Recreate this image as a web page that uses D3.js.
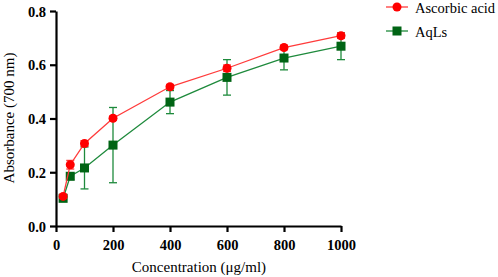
<!DOCTYPE html>
<html><head><meta charset="utf-8">
<script src="https://cdn.jsdelivr.net/npm/d3@7"></script>
<style>body{margin:0;background:#fff}svg{display:block}</style>
</head><body>
<svg id="c" width="498" height="277"></svg>
<script>
const concentrations = [25, 50, 100, 200, 400, 600, 800, 1000];
const ascorbicMean = [0.110, 0.228, 0.307, 0.401, 0.518, 0.587, 0.664, 0.708];
const ascorbicErr  = [0.006, 0.016, 0.010, 0.008, 0.008, 0.012, 0.008, 0.010];
const aqlsMean = [0.103, 0.185, 0.216, 0.301, 0.461, 0.553, 0.625, 0.669];
const aqlsErr  = [0.005, 0.012, 0.078, 0.140, 0.043, 0.066, 0.044, 0.050];
const xTicks = [0, 200, 400, 600, 800, 1000];
const yTicks = [0.0, 0.2, 0.4, 0.6, 0.8];
const seriesNames = ["Ascorbic acid", "AqLs"];

const svg = d3.select("#c");
const x = d3.scaleLinear().domain([0, 1000]).range([56, 341]);
const y = d3.scaleLinear().domain([0, 0.8]).range([226, 11]);
const font = "'Liberation Serif','DejaVu Serif',serif";

const series = [
  {name: seriesNames[0], mean: ascorbicMean, err: ascorbicErr, line: "#ff3b3b", fill: "#ff0000", shape: "circle"},
  {name: seriesNames[1], mean: aqlsMean, err: aqlsErr, line: "#1e8a3c", fill: "#006414", shape: "square"}
];

// axes
const xa = svg.append("g").attr("transform", `translate(0,${y(0)})`)
  .call(d3.axisBottom(x).tickValues(xTicks).tickSize(6).tickSizeOuter(0).tickFormat(d3.format("d")));
const ya = svg.append("g").attr("transform", `translate(${x(0)},0)`)
  .call(d3.axisLeft(y).tickValues(yTicks).tickSize(6).tickSizeOuter(0).tickFormat(d3.format(".1f")));
[xa, ya].forEach(a => {
  a.select(".domain").attr("stroke", "#000").attr("stroke-width", 2.2);
  a.selectAll(".tick line").attr("stroke", "#000").attr("stroke-width", 2.2);
  a.selectAll(".tick text").attr("font-family", font).attr("font-weight", "bold")
    .attr("font-size", 14.5).attr("fill", "#000");
});
xa.selectAll(".tick text").attr("dy", "1.0em");
ya.selectAll(".tick text").attr("dx", "-1px").attr("dy", "0.35em");

svg.append("text").attr("x", 199).attr("y", 272).attr("text-anchor", "middle")
  .attr("font-family", font).attr("font-size", 15).text("Concentration (μg/ml)");
svg.append("text").attr("transform", `translate(14,${118}) rotate(-90)`).attr("text-anchor", "middle")
  .attr("font-family", font).attr("font-size", 15).text("Absorbance (700 nm)");

const line = d3.line().x(d => x(d[0])).y(d => y(d[1]));

series.slice().reverse().forEach(s => {
  const g = svg.append("g");
  const pts = concentrations.map((c, i) => [c, s.mean[i], s.err[i]]);
  g.append("path").attr("d", line(pts)).attr("fill", "none").attr("stroke", s.line).attr("stroke-width", 1.3);
  pts.forEach(p => {
    const cx = x(p[0]);
    g.append("line").attr("x1", cx).attr("x2", cx).attr("y1", y(p[1] - p[2])).attr("y2", y(p[1] + p[2]))
      .attr("stroke", s.line).attr("stroke-width", 1.3);
    [p[1] - p[2], p[1] + p[2]].forEach(v => g.append("line").attr("x1", cx - 4).attr("x2", cx + 4)
      .attr("y1", y(v)).attr("y2", y(v)).attr("stroke", s.line).attr("stroke-width", 1.3));
  });
  pts.forEach(p => {
    if (s.shape === "circle") g.append("circle").attr("cx", x(p[0])).attr("cy", y(p[1])).attr("r", 4.5).attr("fill", s.fill);
    else g.append("rect").attr("x", x(p[0]) - 4.5).attr("y", y(p[1]) - 4.5).attr("width", 9).attr("height", 9).attr("fill", s.fill);
  });
});

// legend
const lx = 397;
series.forEach((s, i) => {
  const ly = 7 + i * 24;
  const g = svg.append("g");
  g.append("line").attr("x1", lx - 11).attr("x2", lx + 11).attr("y1", ly).attr("y2", ly).attr("stroke", s.line).attr("stroke-width", 1.3);
  if (s.shape === "circle") g.append("circle").attr("cx", lx).attr("cy", ly).attr("r", 4.5).attr("fill", s.fill);
  else g.append("rect").attr("x", lx - 4.5).attr("y", ly - 4.5).attr("width", 9).attr("height", 9).attr("fill", s.fill);
  g.append("text").attr("x", 415).attr("y", ly + 6).attr("font-family", font)
    .attr("font-size", 14.5).text(s.name);
});
</script>
</body></html>
